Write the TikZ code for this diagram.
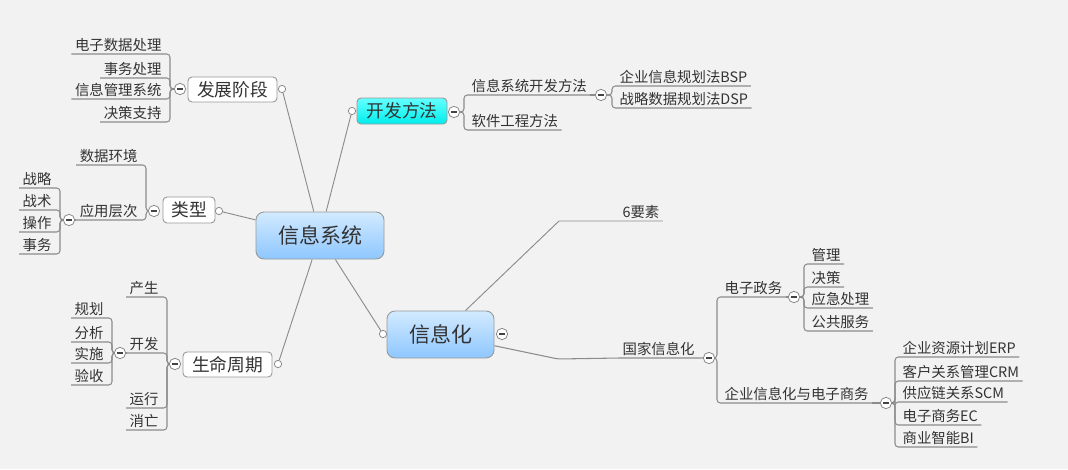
\documentclass[tikz,border=0pt]{standalone}
\usepackage{fontspec}
\setmainfont{Noto Sans CJK SC}
\usetikzlibrary{calc}
\pgfdeclarelayer{bg}
\pgfdeclarelayer{lines}
\pgfsetlayers{bg,lines,main}
\definecolor{bgc}{HTML}{F2F2F2}
\definecolor{txt}{HTML}{333333}
\definecolor{lc}{HTML}{8C8C8C}
\definecolor{cc}{HTML}{8A8A8A}
\definecolor{mc}{HTML}{444444}
\definecolor{bc}{HTML}{9A9A9A}
\definecolor{bt}{HTML}{D2EAFF}
\definecolor{bb}{HTML}{8EC7FF}
\definecolor{cyt}{HTML}{66FFFF}
\definecolor{cyb}{HTML}{00EDED}
\newcommand\mmR[3]{\draw[conn] (#1) -- (#1 -| #2) -- (#2 |- #3.south) -- (#3.south east);}
\newcommand\mmL[3]{\draw[conn] (#1) -- (#1 -| #2) -- (#2 |- #3.south) -- (#3.south west);}
\tikzset{
  leaf/.style={inner xsep=2.5pt, inner ysep=0.8pt, text height=0.85em, text depth=0.15em,
    font=\fontsize{10.8pt}{12pt}\selectfont, text=txt},
  conn/.style={draw=lc, line width=0.8pt, rounded corners=2.5pt},
  mline/.style={draw=lc, line width=0.7pt},
  coll/.style={circle, draw=cc, fill=white, line width=0.6pt, minimum size=8.5pt, inner sep=0pt,
    path picture={\draw[line width=1.2pt, draw=mc] ($(path picture bounding box.center)+(-2.1pt,0pt)$) -- ($(path picture bounding box.center)+(2.1pt,0pt)$);}},
  portc/.style={circle, draw=cc, fill=white, line width=0.6pt, minimum size=5.5pt, inner sep=0pt},
  subtopic/.style={draw=bc, fill=white, rounded corners=3pt, line width=0.7pt,
    font=\fontsize{13.3pt}{15pt}\selectfont, text=txt, inner sep=0pt},
  cytopic/.style={draw=bc, top color=cyt, bottom color=cyb, rounded corners=3pt, line width=0.7pt,
    font=\fontsize{13.3pt}{15pt}\selectfont, text=txt, inner sep=0pt},
  topic/.style={draw=bc, top color=bt, bottom color=bb, rounded corners=6pt, line width=0.7pt,
    font=\fontsize{15.75pt}{18pt}\selectfont, text=txt, inner sep=0pt},
}
\begin{document}
\begin{tikzpicture}[x=0.75pt, y=-0.75pt]
\useasboundingbox (0,0) rectangle (1068,469);
\begin{pgfonlayer}{bg}
  \fill[bgc] (0,0) rectangle (1068,469);
\end{pgfonlayer}

% main topics
\node[topic, minimum width=96pt, minimum height=35.25pt] (root) at (320,235.5) {信息系统};
\node[topic, minimum width=80.25pt, minimum height=35.25pt] (xxh) at (440.5,334.5) {信息化};
\node[subtopic, minimum width=66.75pt, minimum height=18.75pt] (fz) at (232.5,89.5) {发展阶段};
\node[subtopic, minimum width=39pt, minimum height=19.5pt] (lx) at (189,210) {类型};
\node[subtopic, minimum width=66.75pt, minimum height=18.75pt] (sm) at (227.5,364.5) {生命周期};
\node[cytopic, minimum width=67.5pt, minimum height=19.5pt] (kf) at (402,111) {开发方法};

% ports
\node[portc] (p1) at (282,89) {};
\node[portc] (p2) at (352,111) {};
\node[portc] (p3) at (219,211) {};
\node[portc] (p4) at (278,364) {};
\node[portc] (p5) at (383,334) {};

% collapse circles
\node[coll] (cfz) at (180,89) {};
\node[coll] (clx) at (154,211) {};
\node[coll] (csm) at (175,364) {};
\node[coll] (ckf) at (454,112) {};
\node[coll] (cxx) at (502,334) {};
\node[coll] (c11) at (601,95) {};
\node[coll] (cgj) at (709,358) {};
\node[coll] (c21) at (794,297) {};
\node[coll] (c22) at (886,403) {};
\node[coll] (cyy) at (69,220) {};
\node[coll] (ckf2) at (120,353) {};

% bracket x coordinates
\coordinate (bkf) at (464,0);
\coordinate (b11) at (612,0);
\coordinate (bgj) at (717,0);
\coordinate (b21) at (804,0);
\coordinate (b22) at (895,0);
\coordinate (bfz) at (170,0);
\coordinate (blx) at (146,0);
\coordinate (byy) at (60,0);
\coordinate (bsm) at (167,0);
\coordinate (bkf2) at (112,0);
\coordinate (c6) at (559,221);
\coordinate (c7) at (558,359);

% right side leaves
\node[leaf, anchor=south west] (n11) at (468,95) {信息系统开发方法};
\node[leaf, anchor=south west] (n12) at (468,130) {软件工程方法};
\node[leaf, anchor=south west] (n111) at (616,86) {企业信息规划法BSP};
\node[leaf, anchor=south west] (n112) at (616,108) {战略数据规划法DSP};
\node[leaf, anchor=south west] (y6) at (619,221) {6要素};
\node[leaf, anchor=south west] (gj) at (619,358) {国家信息化};
\node[leaf, anchor=south west] (n21) at (721,297) {电子政务};
\node[leaf, anchor=south west] (n22) at (721,403) {企业信息化与电子商务};
\node[leaf, anchor=south west] (m1) at (808,264) {管理};
\node[leaf, anchor=south west] (m2) at (808,287) {决策};
\node[leaf, anchor=south west] (m3) at (808,308) {应急处理};
\node[leaf, anchor=south west] (m4) at (808,331) {公共服务};
\node[leaf, anchor=south west] (e1) at (899,357) {企业资源计划ERP};
\node[leaf, anchor=south west] (e2) at (899,381) {客户关系管理CRM};
\node[leaf, anchor=south west] (e3) at (899,402) {供应链关系SCM};
\node[leaf, anchor=south west] (e4) at (899,425) {电子商务EC};
\node[leaf, anchor=south west] (e5) at (899,447) {商业智能BI};

% left side leaves
\node[leaf, anchor=south east] (f1) at (165,54) {电子数据处理};
\node[leaf, anchor=south east] (f2) at (165,78) {事务处理};
\node[leaf, anchor=south east] (f3) at (165,99) {信息管理系统};
\node[leaf, anchor=south east] (f4) at (165,122) {决策支持};
\node[leaf, anchor=south east] (l1) at (141,165) {数据环境};
\node[leaf, anchor=south east] (l2) at (141,220) {应用层次};
\node[leaf, anchor=south east] (y1) at (55,188) {战略};
\node[leaf, anchor=south east] (y2) at (55,210) {战术};
\node[leaf, anchor=south east] (y3) at (55,232) {操作};
\node[leaf, anchor=south east] (y4) at (55,254) {事务};
\node[leaf, anchor=south east] (s1) at (162,297) {产生};
\node[leaf, anchor=south east] (s2) at (162,353) {开发};
\node[leaf, anchor=south east] (s3) at (162,408) {运行};
\node[leaf, anchor=south east] (s4) at (162,430) {消亡};
\node[leaf, anchor=south east] (k1) at (107,318) {规划};
\node[leaf, anchor=south east] (k2) at (107,342) {分析};
\node[leaf, anchor=south east] (k3) at (107,363) {实施};
\node[leaf, anchor=south east] (k4) at (107,385) {验收};

\begin{pgfonlayer}{lines}
  % central connectors
  \draw[mline] (root) -- (p1);
  \draw[mline] (root) -- (p2);
  \draw[mline] (root) -- (p3);
  \draw[mline] (root) -- (p4);
  \draw[mline] (root) -- (p5);
  \draw[mline] (xxh) -- (c6) -- (y6.south west) -- (y6.south east);
  \draw[conn] (xxh) -- (c7) -- (gj.south west) -- (cgj);
  % right side
  \mmR{ckf}{bkf}{n11} \draw[conn] (n11.south east) -- (c11);
  \mmR{ckf}{bkf}{n12}
  \mmR{c11}{b11}{n111}
  \mmR{c11}{b11}{n112}
  \mmR{cgj}{bgj}{n21} \draw[conn] (n21.south east) -- (c21);
  \mmR{cgj}{bgj}{n22} \draw[conn] (n22.south east) -- (c22);
  \mmR{c21}{b21}{m1}
  \mmR{c21}{b21}{m2}
  \mmR{c21}{b21}{m3}
  \mmR{c21}{b21}{m4}
  \mmR{c22}{b22}{e1}
  \mmR{c22}{b22}{e2}
  \mmR{c22}{b22}{e3}
  \mmR{c22}{b22}{e4}
  \mmR{c22}{b22}{e5}
  % left side
  \mmL{cfz}{bfz}{f1}
  \mmL{cfz}{bfz}{f2}
  \mmL{cfz}{bfz}{f3}
  \mmL{cfz}{bfz}{f4}
  \mmL{clx}{blx}{l1}
  \mmL{clx}{blx}{l2} \draw[conn] (l2.south west) -- (cyy);
  \mmL{cyy}{byy}{y1}
  \mmL{cyy}{byy}{y2}
  \mmL{cyy}{byy}{y3}
  \mmL{cyy}{byy}{y4}
  \mmL{csm}{bsm}{s1}
  \mmL{csm}{bsm}{s2} \draw[conn] (s2.south west) -- (ckf2);
  \mmL{csm}{bsm}{s3}
  \mmL{csm}{bsm}{s4}
  \mmL{ckf2}{bkf2}{k1}
  \mmL{ckf2}{bkf2}{k2}
  \mmL{ckf2}{bkf2}{k3}
  \mmL{ckf2}{bkf2}{k4}
\end{pgfonlayer}
\end{tikzpicture}
\end{document}
